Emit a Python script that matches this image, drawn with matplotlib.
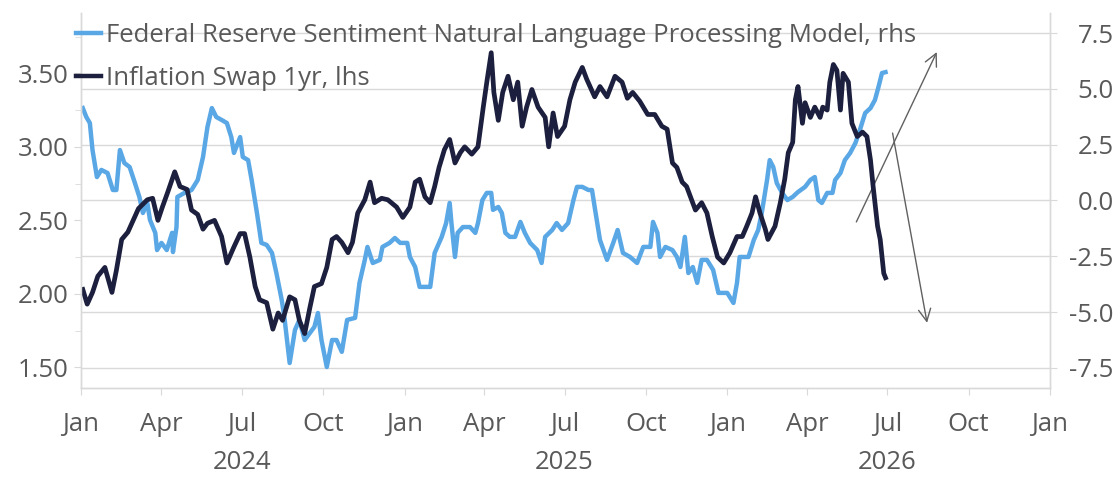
import matplotlib
matplotlib.use("Agg")
import matplotlib.pyplot as plt
import matplotlib.dates as mdates
import matplotlib.transforms as mtransforms
from matplotlib.ticker import MultipleLocator
import pandas as pd

plt.rcParams['font.family'] = ['Open Sans', 'DejaVu Sans']

# ---------------- data ----------------
swap_dates = ["2024-01-03","2024-01-08","2024-01-14","2024-01-20","2024-01-28","2024-02-05","2024-02-10","2024-02-16","2024-02-23","2024-02-29",
"2024-03-06","2024-03-16","2024-03-22","2024-03-28","2024-04-02","2024-04-08","2024-04-16","2024-04-22","2024-04-30","2024-05-05",
"2024-05-12","2024-05-18","2024-05-23","2024-05-31","2024-06-08","2024-06-14","2024-06-22","2024-06-29","2024-07-04","2024-07-10",
"2024-07-16","2024-07-21","2024-07-29","2024-08-05","2024-08-11","2024-08-16","2024-08-24","2024-08-30","2024-09-04","2024-09-10",
"2024-09-16","2024-09-21","2024-09-29","2024-10-05","2024-10-11","2024-10-16","2024-10-22","2024-10-29","2024-11-03","2024-11-09",
"2024-11-17","2024-11-23","2024-11-28","2024-12-06","2024-12-13","2024-12-23","2024-12-30","2025-01-07","2025-01-13","2025-01-18",
"2025-01-24","2025-01-30","2025-02-04","2025-02-09","2025-02-15","2025-02-21","2025-02-27","2025-03-05","2025-03-10","2025-03-18",
"2025-03-25","2025-03-31","2025-04-04","2025-04-09","2025-04-12","2025-04-17","2025-04-22","2025-04-28","2025-05-04","2025-05-09",
"2025-05-14","2025-05-19","2025-05-25","2025-06-01","2025-06-09","2025-06-13","2025-06-18","2025-06-23","2025-07-01","2025-07-07",
"2025-07-13","2025-07-21","2025-07-26","2025-08-04","2025-08-10","2025-08-18","2025-08-27","2025-09-04","2025-09-10","2025-09-16",
"2025-09-24","2025-10-03","2025-10-11","2025-10-19","2025-10-25","2025-10-31","2025-11-05","2025-11-11","2025-11-16","2025-11-26",
"2025-12-03","2025-12-09","2025-12-15","2025-12-21","2025-12-28","2026-01-04","2026-01-12","2026-01-18","2026-01-23","2026-01-29",
"2026-02-02","2026-02-07","2026-02-13","2026-02-16","2026-02-24","2026-03-02","2026-03-07","2026-03-11","2026-03-16","2026-03-19",
"2026-03-22","2026-03-27","2026-03-30","2026-04-05","2026-04-10","2026-04-16","2026-04-19","2026-04-24","2026-04-27","2026-05-01",
"2026-05-05","2026-05-09","2026-05-12","2026-05-18","2026-05-22","2026-05-28","2026-06-03","2026-06-08","2026-06-12","2026-06-15",
"2026-06-20","2026-06-23","2026-06-27","2026-06-29"]
swap_values = [2.03,1.93,2.01,2.12,2.18,2.01,2.16,2.37,2.42,2.50,
2.58,2.64,2.65,2.50,2.59,2.69,2.83,2.73,2.71,2.57,
2.54,2.44,2.48,2.50,2.39,2.21,2.32,2.41,2.41,2.25,
2.05,1.96,1.94,1.76,1.87,1.82,1.98,1.96,1.82,1.73,
1.91,2.05,2.07,2.18,2.37,2.39,2.35,2.28,2.35,2.55,
2.64,2.76,2.62,2.65,2.64,2.59,2.52,2.59,2.76,2.78,
2.66,2.62,2.73,2.86,2.98,3.05,2.89,2.96,3.00,2.95,
3.00,3.27,3.44,3.64,3.37,3.18,3.37,3.48,3.32,3.44,
3.14,3.27,3.39,3.27,3.20,3.00,3.23,3.07,3.14,3.32,
3.44,3.54,3.46,3.34,3.41,3.34,3.48,3.44,3.33,3.37,
3.31,3.22,3.22,3.14,3.12,2.89,2.86,2.76,2.73,2.57,
2.62,2.55,2.39,2.25,2.21,2.28,2.39,2.39,2.46,2.55,
2.66,2.55,2.44,2.37,2.46,2.62,2.78,2.96,3.03,3.32,
3.41,3.16,3.30,3.20,3.27,3.20,3.27,3.25,3.44,3.56,
3.52,3.25,3.50,3.44,3.16,3.07,3.10,3.07,2.91,2.73,
2.46,2.37,2.14,2.11]

sent_dates = ["2024-01-03","2024-01-07","2024-01-11","2024-01-14","2024-01-19","2024-01-24","2024-01-31","2024-02-06","2024-02-10","2024-02-14",
"2024-02-19","2024-02-25","2024-03-02","2024-03-07","2024-03-11","2024-03-16","2024-03-19","2024-03-25","2024-03-27","2024-04-01",
"2024-04-07","2024-04-13","2024-04-14","2024-04-18","2024-04-19","2024-04-27","2024-05-05","2024-05-12","2024-05-18","2024-05-23",
"2024-05-28","2024-06-02","2024-06-08","2024-06-14","2024-06-19","2024-06-22","2024-06-29","2024-07-02","2024-07-08","2024-07-12",
"2024-07-18","2024-07-23","2024-07-29","2024-08-04","2024-08-09","2024-08-15","2024-08-18","2024-08-24","2024-08-30","2024-09-04",
"2024-09-10","2024-09-16","2024-09-21","2024-09-25","2024-09-29","2024-10-05","2024-10-11","2024-10-16","2024-10-22","2024-10-28",
"2024-11-06","2024-11-11","2024-11-17","2024-11-20","2024-11-26","2024-12-04","2024-12-07","2024-12-15","2024-12-21","2024-12-27",
"2025-01-04","2025-01-07","2025-01-13","2025-01-18","2025-01-30","2025-02-04","2025-02-12","2025-02-17","2025-02-21","2025-02-23",
"2025-02-27","2025-03-02","2025-03-08","2025-03-16","2025-03-22","2025-03-25","2025-03-30","2025-04-04","2025-04-09","2025-04-11",
"2025-04-17","2025-04-21","2025-04-25","2025-04-30","2025-05-06","2025-05-12","2025-05-17","2025-05-23","2025-05-31","2025-06-05",
"2025-06-09","2025-06-17","2025-06-22","2025-06-28","2025-07-05","2025-07-11","2025-07-15","2025-07-21","2025-07-28","2025-08-01",
"2025-08-04","2025-08-10","2025-08-18","2025-08-25","2025-08-30","2025-09-05","2025-09-13","2025-09-21","2025-09-28","2025-10-06",
"2025-10-09","2025-10-14","2025-10-17","2025-10-23","2025-10-31","2025-11-05","2025-11-09","2025-11-14","2025-11-18","2025-11-23",
"2025-11-28","2025-12-03","2025-12-09","2025-12-16","2025-12-22","2026-01-01","2026-01-08","2026-01-12","2026-01-15","2026-01-25",
"2026-01-31","2026-02-05","2026-02-09","2026-02-15","2026-02-18","2026-02-22","2026-02-26","2026-03-04","2026-03-10","2026-03-16",
"2026-03-22","2026-03-30","2026-04-05","2026-04-10","2026-04-14","2026-04-18","2026-04-24","2026-04-30","2026-05-03","2026-05-09",
"2026-05-14","2026-05-20","2026-05-26","2026-05-31","2026-06-06","2026-06-12","2026-06-17","2026-06-21","2026-06-25","2026-06-29"]
sent_values = [4.14,3.74,3.47,2.26,1.05,1.37,1.23,0.47,0.47,2.26,
1.68,1.50,0.78,0.16,-0.56,-0.11,-0.87,-1.45,-2.22,-1.90,
-2.22,-1.45,-2.31,-1.19,0.16,0.34,0.47,0.92,1.95,3.29,
4.14,3.74,3.61,3.47,2.84,2.13,2.84,1.95,1.81,0.92,
-0.56,-1.90,-1.99,-2.35,-3.25,-4.45,-5.22,-7.28,-5.80,-5.35,
-6.25,-5.93,-5.66,-5.04,-6.25,-7.46,-6.25,-6.25,-6.78,-5.35,
-5.26,-3.69,-2.66,-2.08,-2.80,-2.66,-2.08,-1.90,-1.68,-1.90,
-1.90,-2.53,-2.98,-3.87,-3.87,-2.35,-1.63,-1.01,-0.11,-1.01,
-2.53,-1.45,-1.19,-1.19,-1.45,-1.01,0.02,0.34,0.34,-0.42,
-0.29,-0.56,-1.45,-1.63,-1.63,-0.96,-1.45,-1.90,-2.22,-2.80,
-1.63,-1.32,-1.01,-1.32,-1.01,0.02,0.61,0.61,0.47,0.47,
-0.29,-1.77,-2.66,-1.90,-1.32,-2.35,-2.53,-2.80,-2.08,-2.08,
-0.96,-1.45,-2.53,-2.08,-2.22,-2.53,-2.98,-1.63,-3.25,-2.98,
-3.69,-2.66,-2.66,-3.11,-4.14,-4.14,-4.59,-3.69,-2.53,-2.53,
-1.77,-1.32,-0.56,0.92,1.81,1.50,0.78,0.34,0.02,0.16,
0.38,0.61,0.92,1.05,0.02,-0.11,0.34,0.34,0.92,1.23,
1.81,2.13,2.58,3.16,3.92,4.14,4.50,5.08,5.71,5.75]

sent_label = "Federal Reserve Sentiment Natural Language Processing Model, rhs"
swap_label = "Inflation Swap 1yr, lhs"
left_ticks = [1.50, 2.00, 2.50, 3.00, 3.50]
right_ticks = [-7.5, -5.0, -2.5, 0.0, 2.5, 5.0, 7.5]
year_labels = ["2024", "2025", "2026"]
# annotation arrows (start date, start rhs value, end date, end rhs value)
arrow_up = ("2026-05-27", -0.96, "2026-08-26", 6.65)
arrow_down = ("2026-07-07", 3.02, "2026-08-15", -5.48)

# ---------------- styling ----------------
BLUE = "#5aa7e6"
NAVY = "#1c1f3d"
GREY_TXT = "#595959"
GRID = "#d9d9d9"
FS = 18.5

fig = plt.figure(figsize=(11.19, 4.78), dpi=100)
ax = fig.add_axes([0.0724, 0.1883, 0.8659, 0.7845])
ax2 = ax.twinx()

sd = pd.to_datetime(swap_dates)
td = pd.to_datetime(sent_dates)

l2, = ax2.plot(td, sent_values, color=BLUE, lw=3.2, solid_joinstyle='round', label=sent_label)
l1, = ax.plot(sd, swap_values, color=NAVY, lw=3.4, solid_joinstyle='round', label=swap_label)

# dark line above blue
ax.set_zorder(ax2.get_zorder() + 1)
ax.patch.set_visible(False)

ax.set_xlim(pd.Timestamp("2024-01-01"), pd.Timestamp("2027-01-01"))
ax.set_ylim(1.36, 3.91)
ax2.set_ylim(-8.4, 8.4)

ax.set_yticks(left_ticks)
ax.set_yticklabels([f"{v:.2f}" for v in left_ticks])
ax.yaxis.set_minor_locator(MultipleLocator(0.25))
ax2.set_yticks(right_ticks)
ax2.set_yticklabels([f"{v:.1f}" for v in right_ticks])

ax2.grid(axis='y', color=GRID, lw=1.0)
ax2.set_axisbelow(True)

ax.xaxis.set_major_locator(mdates.MonthLocator(bymonth=[1, 4, 7, 10]))
ax.xaxis.set_major_formatter(mdates.DateFormatter('%b'))

for a in (ax, ax2):
    a.spines['top'].set_visible(False)
    for s in ('left', 'right', 'bottom'):
        a.spines[s].set_color(GRID)
        a.spines[s].set_linewidth(1.0)
    a.tick_params(axis='both', which='both', colors=GRID, labelcolor=GREY_TXT, labelsize=FS)
ax.tick_params(axis='y', which='major', length=5, pad=4)
ax.tick_params(axis='y', which='minor', length=4)
ax2.tick_params(axis='y', length=5, pad=41)
for lab in ax2.get_yticklabels():
    lab.set_horizontalalignment('right')
ax.tick_params(axis='x', length=5, pad=12)

# year labels under July
trans = mtransforms.blended_transform_factory(ax.transData, ax.transAxes)
for y in year_labels:
    ax.text(pd.Timestamp(f"{y}-07-01"), -0.198, y, transform=trans, ha='center', va='center',
            fontsize=FS, color=GREY_TXT)

# arrows
for (d0, v0, d1, v1) in (arrow_up, arrow_down):
    ax2.annotate("", xy=(pd.Timestamp(d1), v1), xytext=(pd.Timestamp(d0), v0),
                 arrowprops=dict(arrowstyle='->', color='#606060', lw=1.0, mutation_scale=22,
                                 shrinkA=0, shrinkB=0))

leg = fig.legend(handles=[l2, l1], loc='upper left', bbox_to_anchor=(0.068, 0.952),
                 frameon=False, fontsize=FS, handlelength=0.95, handletextpad=0.22,
                 labelspacing=0.72, borderaxespad=0, borderpad=0)
for t in leg.get_texts():
    t.set_color(GREY_TXT)
for h in leg.legend_handles:
    h.set_linewidth(3.2)

fig.savefig("out.png", dpi=100)
